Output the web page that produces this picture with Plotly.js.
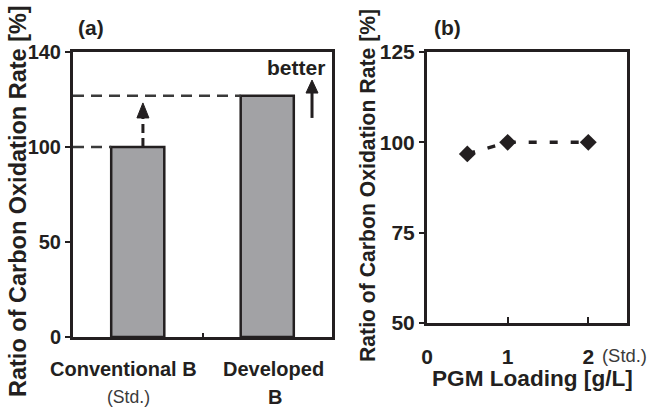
<!DOCTYPE html>
<html>
<head>
<meta charset="utf-8">
<script src="https://cdn.plot.ly/plotly-3.0.1.min.js"></script>
<style>html,body{margin:0;padding:0;background:#fff;}#chart{width:647px;height:411px;}</style>
</head>
<body>
<div id="chart"></div>
<script>
// ---- data ----
var barCategories = ["Conventional B", "Developed B"];
var barPositions = [0, 1];
var barValues = [100, 127];
var aTickVals = [0, 50, 100, 150];
var aTickText = ["0", "50", "100", "140"];

var pgmLoading = [0.5, 1, 2];
var pgmRatio = [96.8, 100, 100];
var bTickVals = [50, 75, 100, 125];
var bXTickVals = [0, 1, 2];

var W = 647, H = 411;
function px(x){ return x / W; }
function py(y){ return 1 - y / H; }
var FONT = "Liberation Sans, Arial, Helvetica, sans-serif";
var INK = "#231f20";

var traces = [
  {
    type: "bar", x: barPositions, y: barValues, width: 0.41,
    xaxis: "x", yaxis: "y",
    marker: {color: "#a2a2a5", line: {color: INK, width: 2.5}},
    hoverinfo: "skip", showlegend: false
  },
  {
    type: "scatter", mode: "lines+markers", x: pgmLoading, y: pgmRatio,
    xaxis: "x2", yaxis: "y2",
    line: {color: INK, width: 3.5, dash: "8px,13px"},
    marker: {symbol: "diamond", size: 13, color: INK},
    hoverinfo: "skip", showlegend: false
  }
];

var axisCommon = {
  showline: true, mirror: true, linecolor: INK, linewidth: 3,
  showgrid: false, zeroline: false, tickcolor: INK, tickwidth: 2,
  fixedrange: true
};

var layout = {
  width: W, height: H,
  margin: {l: 0, r: 0, t: 0, b: 0},
  paper_bgcolor: "#fff", plot_bgcolor: "#fff",
  font: {family: FONT, color: INK},
  xaxis: Object.assign({}, axisCommon, {
    domain: [px(73), px(332)], range: [-0.5, 1.5], anchor: "y",
    tickmode: "array", tickvals: [0.5], ticktext: [""],
    ticks: "inside", ticklen: 4
  }),
  yaxis: Object.assign({}, axisCommon, {
    domain: [py(337), py(52)], range: [0, 150], anchor: "x",
    tickmode: "array", tickvals: aTickVals, ticktext: aTickText,
    ticks: "outside", ticklen: 5,
    tickfont: {family: FONT, size: 20, color: INK, weight: 700}
  }),
  xaxis2: Object.assign({}, axisCommon, {
    domain: [px(427), px(627)], range: [0, 2.48], anchor: "y2",
    tickmode: "array", tickvals: bXTickVals,
    ticks: "inside", ticklen: 6, ticklabelstandoff: 13,
    tickfont: {family: FONT, size: 21, color: INK, weight: 700}
  }),
  yaxis2: Object.assign({}, axisCommon, {
    domain: [py(323), py(52)], range: [50, 125], anchor: "x2",
    tickmode: "array", tickvals: bTickVals,
    ticks: "outside", ticklen: 5,
    tickfont: {family: FONT, size: 21, color: INK, weight: 700}
  }),
  shapes: [
    // dashed reference lines
    {type: "line", xref: "x", yref: "y", x0: -0.5, x1: barPositions[0] - 0.205, y0: barValues[0], y1: barValues[0],
     line: {color: "#3a3a3a", width: 2.5, dash: "11px,7px"}},
    {type: "line", xref: "x", yref: "y", x0: -0.5, x1: barPositions[1] - 0.205, y0: barValues[1], y1: barValues[1],
     line: {color: "#3a3a3a", width: 2.5, dash: "11px,7px"}},
    // dashed vertical arrow shaft
    {type: "line", xref: "x", yref: "y", x0: 0.04, x1: 0.04, y0: barValues[0], y1: 115.5,
     line: {color: INK, width: 3, dash: "9px,5px"}},
    // dashed arrow head
    {type: "path", xref: "x", yref: "y", xsizemode: "pixel", ysizemode: "pixel",
     xanchor: 0.04, yanchor: 115.3, path: "M -6,0 L 6,0 L 0,15 Z",
     fillcolor: INK, line: {color: INK, width: 1}},
    // solid "better" arrow shaft
    {type: "line", xref: "x", yref: "y", x0: 1.3456, x1: 1.3456, y0: 115.3, y1: 129.5,
     line: {color: INK, width: 3}},
    {type: "path", xref: "x", yref: "y", xsizemode: "pixel", ysizemode: "pixel",
     xanchor: 1.3456, yanchor: 128.4, path: "M -6,0 L 6,0 L 0,13 Z",
     fillcolor: INK, line: {color: INK, width: 1}}
  ],
  annotations: [
    {xref: "paper", yref: "paper", x: px(18), y: py(201), text: "Ratio of Carbon Oxidation Rate [%]",
     textangle: -90, showarrow: false, xanchor: "center", yanchor: "middle",
     font: {family: FONT, size: 23.5, color: INK, weight: 700}},
    {xref: "paper", yref: "paper", x: px(368), y: py(186), text: "Ratio of Carbon Oxidation Rate [%]",
     textangle: -90, showarrow: false, xanchor: "center", yanchor: "middle",
     font: {family: FONT, size: 21.2, color: INK, weight: 700}},
    {xref: "paper", yref: "paper", x: px(91), y: py(27), text: "(a)", showarrow: false,
     xanchor: "center", yanchor: "middle", font: {family: FONT, size: 21, color: INK, weight: 700}},
    {xref: "paper", yref: "paper", x: px(447), y: py(27), text: "(b)", showarrow: false,
     xanchor: "center", yanchor: "middle", font: {family: FONT, size: 21, color: INK, weight: 700}},
    {xref: "paper", yref: "paper", x: px(296), y: py(67), text: "better", showarrow: false,
     xanchor: "center", yanchor: "middle", font: {family: FONT, size: 21, color: INK, weight: 700}},
    {xref: "paper", yref: "paper", x: px(123), y: py(369), text: barCategories[0], showarrow: false,
     xanchor: "center", yanchor: "middle", font: {family: FONT, size: 20, color: INK, weight: 700}},
    {xref: "paper", yref: "paper", x: px(128), y: py(397), text: "(Std.)", showarrow: false,
     xanchor: "center", yanchor: "middle", font: {family: FONT, size: 17.6, color: "#3a3a3a"}},
    {xref: "paper", yref: "paper", x: px(273), y: py(369), text: barCategories[1].split(" ")[0], showarrow: false,
     xanchor: "center", yanchor: "middle", font: {family: FONT, size: 20, color: INK, weight: 700}},
    {xref: "paper", yref: "paper", x: px(275), y: py(397), text: barCategories[1].split(" ")[1], showarrow: false,
     xanchor: "center", yanchor: "middle", font: {family: FONT, size: 20, color: INK, weight: 700}},
    {xref: "paper", yref: "paper", x: px(624), y: py(355), text: "(Std.)", showarrow: false,
     xanchor: "center", yanchor: "middle", font: {family: FONT, size: 18.4, color: "#3a3a3a"}},
    {xref: "paper", yref: "paper", x: px(532), y: py(378), text: "PGM Loading [g/L]", showarrow: false,
     xanchor: "center", yanchor: "middle", font: {family: FONT, size: 22.6, color: INK, weight: 700}}
  ]
};

Plotly.newPlot("chart", traces, layout, {displayModeBar: false, staticPlot: true});
</script>
</body>
</html>
